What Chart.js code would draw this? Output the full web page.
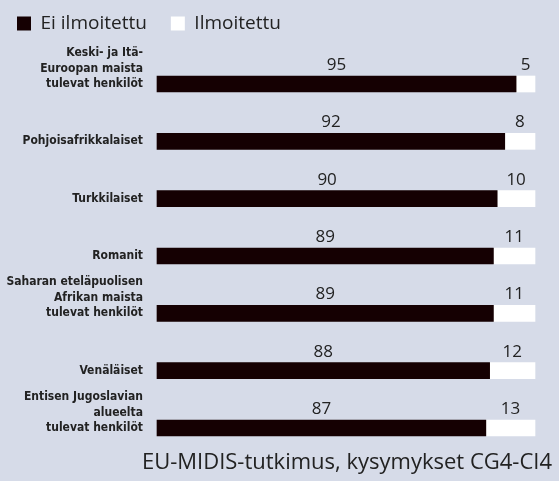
<!DOCTYPE html>
<html>
<head>
<meta charset="utf-8">
<script src="https://cdn.jsdelivr.net/npm/chart.js@4/dist/chart.umd.min.js"></script>
<style>
  html, body { margin: 0; padding: 0; background: #d6dbe8; }
  #wrap { width: 559px; height: 481px; }
</style>
</head>
<body>
<div id="wrap"><canvas id="myChart"></canvas></div>
<script>
// categories (last line of each label sits at the bar, so pad with empty lines)
const groups = [
    ['Keski- ja Itä-', 'Euroopan maista', 'tulevat henkilöt', '', ''],
    'Pohjoisafrikkalaiset',
    'Turkkilaiset',
    'Romanit',
    ['Saharan eteläpuolisen', 'Afrikan maista', 'tulevat henkilöt', '', ''],
    'Venäläiset',
    ['Entisen Jugoslavian', 'alueelta', 'tulevat henkilöt', '', '']
]
// percent not reported / reported
const notReported = [95, 92, 90, 89, 89, 88, 87]
const reported = [5, 8, 10, 11, 11, 12, 13]
const sourceText = 'EU-MIDIS-tutkimus, kysymykset CG4-CI4'

const font = "'Open Sans', 'Noto Sans', sans-serif"
const narrow = "'Liberation Sans Narrow', 'DejaVu Sans Condensed', sans-serif"

// write the value above the middle of each bar segment
const valueLabels = {
    id: 'valueLabels',
    afterDatasetsDraw(chart) {
        const c = chart.ctx
        c.save()
        c.font = '17px ' + font
        c.fillStyle = '#222'
        c.textAlign = 'center'
        c.textBaseline = 'alphabetic'
        chart.data.datasets.forEach((ds, i) => {
            chart.getDatasetMeta(i).data.forEach((bar, j) => {
                const p = bar.getProps(['x', 'y', 'base', 'height'], true)
                c.fillText(ds.data[j], (p.x + p.base) / 2, p.y - p.height / 2 - 6)
            })
        })
        c.restore()
    }
}

new Chart(document.getElementById('myChart'), {
    type: 'bar',
    data: {
        labels: groups,
        datasets: [{
            label: 'Ei ilmoitettu',
            data: notReported,
            backgroundColor: '#150002',
            borderWidth: 0,
            barThickness: 16,
            clip: false
        }, {
            label: 'Ilmoitettu',
            data: reported,
            backgroundColor: '#ffffff',
            borderWidth: 0,
            barThickness: 16,
            clip: false
        }]
    },
    options: {
        indexAxis: 'y',
        responsive: true,
        maintainAspectRatio: false,
        animation: false,
        layout: { padding: { left: -7, right: 7, top: -10, bottom: 0 } },
        scales: {
            x: {
                stacked: true,
                min: 0,
                max: 100,
                position: 'top',
                grid: { display: false, drawTicks: false },
                border: { display: false },
                ticks: { display: false },
                afterFit(s) { s.height = 41 }
            },
            y: {
                stacked: true,
                offset: false,
                grid: { display: false, drawTicks: false },
                border: { display: false },
                ticks: {
                    autoSkip: false,
                    padding: 14,
                    color: '#222',
                    font: { family: narrow, size: 12, weight: 'bold', lineHeight: 1.3 }
                },
                afterFit(s) { s.width = 164 }
            },
            y2: {
                type: 'category',
                labels: groups,
                position: 'right',
                grid: { display: false, drawTicks: false },
                border: { display: false },
                ticks: { display: false },
                afterFit(s) { s.width = 17 }
            }
        },
        plugins: {
            legend: {
                position: 'top',
                align: 'start',
                labels: {
                    boxWidth: 14,
                    boxHeight: 14,
                    padding: 24,
                    color: '#222',
                    font: { family: font, size: 19 }
                }
            },
            title: {
                display: true,
                text: sourceText,
                position: 'bottom',
                align: 'end',
                color: '#222',
                padding: { top: 22, bottom: 0 },
                font: { family: font, size: 22, weight: 'normal' }
            },
            tooltip: { enabled: false }
        }
    },
    plugins: [valueLabels]
});
</script>
</body>
</html>
